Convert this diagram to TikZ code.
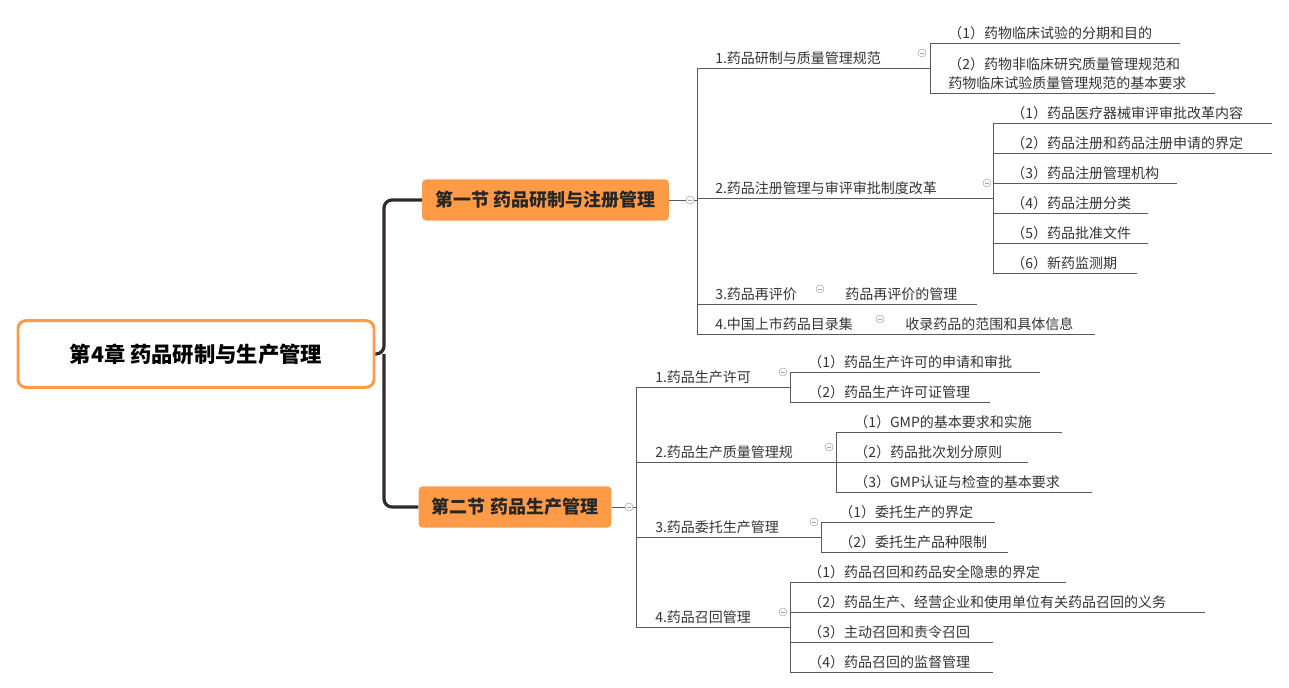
\documentclass[tikz,border=0pt]{standalone}
\usepackage{fontspec}
\setmainfont{Noto Sans CJK SC}
\usetikzlibrary{positioning}
\definecolor{orangebox}{HTML}{FF9B47}
\definecolor{trunk}{HTML}{302A30}
\definecolor{linegray}{HTML}{5A5A5A}
\tikzset{
    root/.style = {draw=orangebox, line width=2.2pt, rounded corners=6pt, fill=white,
        minimum width=267pt, minimum height=50pt, font=\fontsize{16}{18}\selectfont\bfseries},
    section/.style = {fill=orangebox, rounded corners=3pt, minimum height=31pt,
        text=black!85, font=\fontsize{13.5}{15}\selectfont\bfseries, inner xsep=10pt},
    leaf/.style = {anchor=south west, inner xsep=0pt, inner ysep=2.5pt, text=black!80,
        font=\fontsize{10.5}{14}\selectfont},
    uline/.style = {draw=linegray, line width=0.6pt},
    fold/.style = {draw=gray!70, circle, inner sep=0pt, minimum size=6pt, fill=white,
        path picture={\draw[gray!70] ([xshift=-1.5pt]path picture bounding box.center) -- ([xshift=1.5pt]path picture bounding box.center);}}
}
\begin{document}
\begin{tikzpicture}[x=0.75pt,y=-0.75pt]
    \useasboundingbox (0,0) rectangle (1289,688);
    % root and sections
    \node [root] (root) at (196,354) {第4章\ 药品研制与生产管理};
    \node [section] (sec1) at (545.5,200) {第一节\ 药品研制与注册管理};
    \node [section] (sec2) at (515,507) {第二节\ 药品生产管理};
    \coordinate (tr) at (384,354);
    \draw [trunk, line width=2.4pt, rounded corners=6pt] (root.east) -- (tr) |- (sec1.west);
    \draw [trunk, line width=2.4pt, rounded corners=6pt] (tr) |- (sec2.west);
    % section 1
    \node [fold] (f1) at (690,200) {};
    \draw [uline] (sec1.east) -- (f1) -- (697,200);
    \draw [uline] (697,68) -- (697,334);
    \node [leaf] (a) at (715,68) {1.药品研制与质量管理规范};
    \node [leaf] (b) at (715,198) {2.药品注册管理与审评审批制度改革};
    \node [leaf] (c) at (715,304) {3.药品再评价};
    \node [leaf] (c1) at (845,304) {药品再评价的管理};
    \node [leaf] (d) at (715,334) {4.中国上市药品目录集};
    \node [leaf] (d1) at (905,334) {收录药品的范围和具体信息};
    \draw [uline] (697,68) -- (930,68);
    \draw [uline] (697,198) -- (993,198);
    \draw [uline] (697,304) -- (977,304);
    \draw [uline] (697,334) -- (1095,334);
    \node [fold] at (922,53) {};
    \node [fold] at (987,183) {};
    \node [fold] at (820,289) {};
    \node [fold] at (880,319) {};
    % level 3 of 1
    \draw [uline] (930,43) -- (930,93);
    \node [leaf] (a1) at (948,43) {（1）药物临床试验的分期和目的};
    \node [leaf, align=left] (a2) at (948,93) {（2）药物非临床研究质量管理规范和\\药物临床试验质量管理规范的基本要求};
    \draw [uline] (930,43) -- (1180,43);
    \draw [uline] (930,93) -- (1215,93);
    % level 3 of 2
    \draw [uline] (993,123) -- (993,273);
    \foreach \y/\e/\t in {123/1272/（1）药品医疗器械审评审批改革内容,
                          153/1272/（2）药品注册和药品注册申请的界定,
                          183/1177/（3）药品注册管理机构,
                          213/1148/（4）药品注册分类,
                          243/1148/（5）药品批准文件,
                          273/1137/（6）新药监测期}{
        \node [leaf] at (1011,\y) {\t};
        \draw [uline] (993,\y) -- (\e,\y);
    }
    % section 2
    \node [fold] (f2) at (629,507) {};
    \draw [uline] (sec2.east) -- (f2) -- (636,507);
    \draw [uline] (636,387) -- (636,627);
    \foreach \y/\e/\f/\t in {387/790/783/1.药品生产许可,
                             462/836/829/2.药品生产质量管理规,
                             537/821/814/3.药品委托生产管理,
                             627/790/783/4.药品召回管理}{
        \node [leaf] at (655,\y) {\t};
        \draw [uline] (636,\y) -- (\e,\y);
        \node [fold] at (\f,\y-15) {};
    }
    \draw [uline] (790,372) -- (790,402);
    \draw [uline] (836,432) -- (836,492);
    \draw [uline] (821,522) -- (821,552);
    \draw [uline] (790,582) -- (790,672);
    \foreach \x/\y/\e/\t in {790/372/1040/（1）药品生产许可的申请和审批,
                             790/402/990/（2）药品生产许可证管理,
                             836/432/1062/（1）GMP的基本要求和实施,
                             836/462/1028/（2）药品批次划分原则,
                             836/492/1092/（3）GMP认证与检查的基本要求,
                             821/522/995/（1）委托生产的界定,
                             821/552/1008/（2）委托生产品种限制,
                             790/582/1066/（1）药品召回和药品安全隐患的界定,
                             790/612/1205/（2）药品生产、经营企业和使用单位有关药品召回的义务,
                             790/642/993/（3）主动召回和责令召回,
                             790/672/993/（4）药品召回的监督管理}{
        \node [leaf] at (\x+18,\y) {\t};
        \draw [uline] (\x,\y) -- (\e,\y);
    }
\end{tikzpicture}
\end{document}
